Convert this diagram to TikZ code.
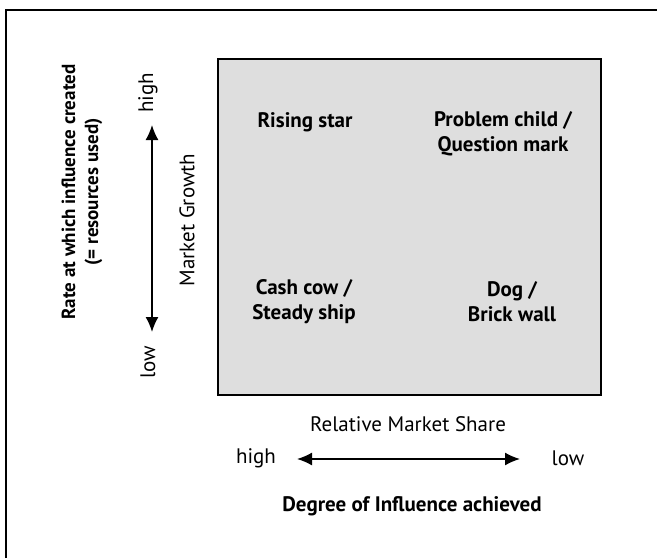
\documentclass[tikz,border=0pt]{standalone}
\usepackage{fontspec}
\setmainfont{PT Sans}
\usetikzlibrary{arrows.meta}
\definecolor{boxgray}{HTML}{DEDEDE}
\tikzset{
  quad/.style={font=\bfseries\fontsize{21}{25}\selectfont, align=center},
  lbl/.style={font=\fontsize{21}{24}\selectfont},
  vlbl/.style={lbl, rotate=90},
  twoway/.style={{Latex[length=15pt,width=13pt]}-{Latex[length=15pt,width=13pt]}, line width=1.6pt}
}
\begin{document}
\begin{tikzpicture}[x=1pt,y=-1pt]
  \useasboundingbox (0,0) rectangle (657,558);
  \draw[line width=1.2pt] (6,558) -- (6,10) -- (657,10);
  \draw[line width=1.6pt, fill=boxgray] (218,59) rectangle (601,395);
  \draw
    (305,122) node[quad] (star){Rising star}
    (503,134) node[quad] (child){Problem child /\\Question mark}
    (304,302) node[quad] (cow){Cash cow /\\Steady ship}
    (512,302) node[quad] (dog){Dog /\\Brick wall};
  % vertical axis
  \coordinate (gtop) at (152,125);
  \coordinate (gbot) at (152,332);
  \draw[twoway] (gbot) -- (gtop);
  \node[vlbl] (ghigh) at (148,93) {high};
  \node[vlbl] (glow) at (148,362) {low};
  \node[vlbl] (growth) at (187,220) {Market Growth};
  \node[quad, rotate=90, font=\bfseries\fontsize{19}{23}\selectfont] (rate) at (82,192)
    {Rate at which influence created\\(= resources used)};
  % horizontal axis
  \coordinate (sleft) at (297,459);
  \coordinate (sright) at (520,459);
  \draw[twoway] (sleft) -- (sright);
  \node[lbl] (shigh) at (256,458) {high};
  \node[lbl] (slow) at (568,458) {low};
  \node[lbl] (share) at (408,424) {Relative Market Share};
  \node[quad] (degree) at (412,506) {Degree of Influence achieved};
\end{tikzpicture}
\end{document}
